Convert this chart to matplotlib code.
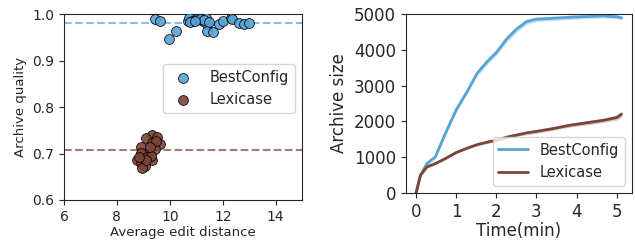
import numpy as np
import matplotlib
matplotlib.use("Agg")
import matplotlib.pyplot as plt
import seaborn as sns

sns.set_style("ticks")
plt.rcParams['font.family'] = ['DejaVu Sans']

BLUE = '#57a3d6'
BROWN = '#7d4436'

# archive quality vs edit distance
best_x = [9.44, 9.63, 9.97, 10.24, 10.70, 10.72, 10.85, 11.04, 11.27, 11.35, 11.42, 11.39,
          11.63, 11.86, 12.02, 12.30, 12.36, 12.61, 12.82, 13.00, 10.76, 11.15, 11.30, 11.48, 10.95]
best_y = [0.989, 0.986, 0.947, 0.964, 0.984, 0.991, 0.986, 0.989, 0.986, 0.991, 0.978, 0.963,
          0.961, 0.978, 0.986, 0.991, 0.989, 0.980, 0.978, 0.981, 0.982, 0.990, 0.988, 0.983, 0.985]
lex_x = [9.34, 9.53, 9.11, 9.62, 9.34, 8.90, 9.44, 9.19, 8.90, 9.14, 8.77, 9.34, 8.90,
         9.05, 8.96, 9.27, 9.47, 9.09, 9.24, 8.84]
lex_y = [0.740, 0.735, 0.734, 0.720, 0.722, 0.715, 0.709, 0.700, 0.701, 0.693, 0.687, 0.685,
         0.680, 0.673, 0.668, 0.694, 0.727, 0.686, 0.714, 0.693]
best_mean = 0.981
lex_mean = 0.708

# archive size over time
t = [0.0, 0.11, 0.27, 0.48, 0.73, 1.0, 1.27, 1.52, 1.77, 2.0, 2.26, 2.51, 2.76, 3.0,
     3.42, 3.84, 4.25, 4.67, 5.0, 5.12]
best_size = [0, 494, 821, 1008, 1660, 2320, 2827, 3340, 3667, 3920, 4300, 4580, 4786, 4850,
             4879, 4907, 4925, 4944, 4920, 4890]
lex_size = [0, 494, 727, 821, 961, 1130, 1250, 1350, 1420, 1474, 1560, 1620, 1680, 1720,
            1800, 1894, 1960, 2030, 2108, 2200]
best_err = [0, 30, 40, 50, 60, 70, 70, 80, 80, 90, 90, 90, 80, 70, 60, 60, 60, 60, 60, 60]
lex_err = [0, 30, 30, 30, 30, 30, 30, 40, 40, 40, 40, 40, 50, 50, 50, 50, 60, 60, 70, 90]

fig = plt.figure(figsize=(6.35, 2.46), dpi=100)
ax1 = fig.add_axes([0.1008, 0.187, 0.375, 0.756])
ax2 = fig.add_axes([0.639, 0.2154, 0.356, 0.728])

ax1.axhline(best_mean, color=BLUE, ls='--', lw=1.5, alpha=0.7)
ax1.axhline(lex_mean, color=BROWN, ls='--', lw=1.5, alpha=0.7)
ax1.scatter(best_x, best_y, s=50, color=BLUE, edgecolor='black', linewidth=0.6,
            alpha=0.9, label='BestConfig', zorder=3)
ax1.scatter(lex_x, lex_y, s=50, color=BROWN, edgecolor='black', linewidth=0.6,
            alpha=0.9, label='Lexicase', zorder=3)
ax1.set_xlim(6, 15)
ax1.set_ylim(0.6, 1.0)
ax1.set_xticks([6, 8, 10, 12, 14])
ax1.set_yticks([0.6, 0.7, 0.8, 0.9, 1.0])
ax1.tick_params(labelsize=10)
ax1.set_xlabel('Average edit distance', fontsize=9.5, labelpad=2)
ax1.set_ylabel('Archive quality', fontsize=9.5)
ax1.legend(loc='center right', fontsize=10.5, bbox_to_anchor=(1.0, 0.6))

ax2.plot(t, best_size, color=BLUE, lw=2, label='BestConfig')
ax2.fill_between(t, np.array(best_size) - best_err, np.array(best_size) + best_err,
                 color=BLUE, alpha=0.3, lw=0)
ax2.plot(t, lex_size, color=BROWN, lw=2, label='Lexicase')
ax2.fill_between(t, np.array(lex_size) - lex_err, np.array(lex_size) + lex_err,
                 color=BROWN, alpha=0.3, lw=0)
ax2.set_ylim(0, 5000)
ax2.set_xticks([0, 1, 2, 3, 4, 5])
ax2.tick_params(labelsize=12)
ax2.set_xlabel('Time(min)', fontsize=12, labelpad=1)
ax2.set_ylabel('Archive size', fontsize=12)
ax2.legend(loc='lower right', fontsize=10.5)

fig.savefig('out.png', dpi=100)
